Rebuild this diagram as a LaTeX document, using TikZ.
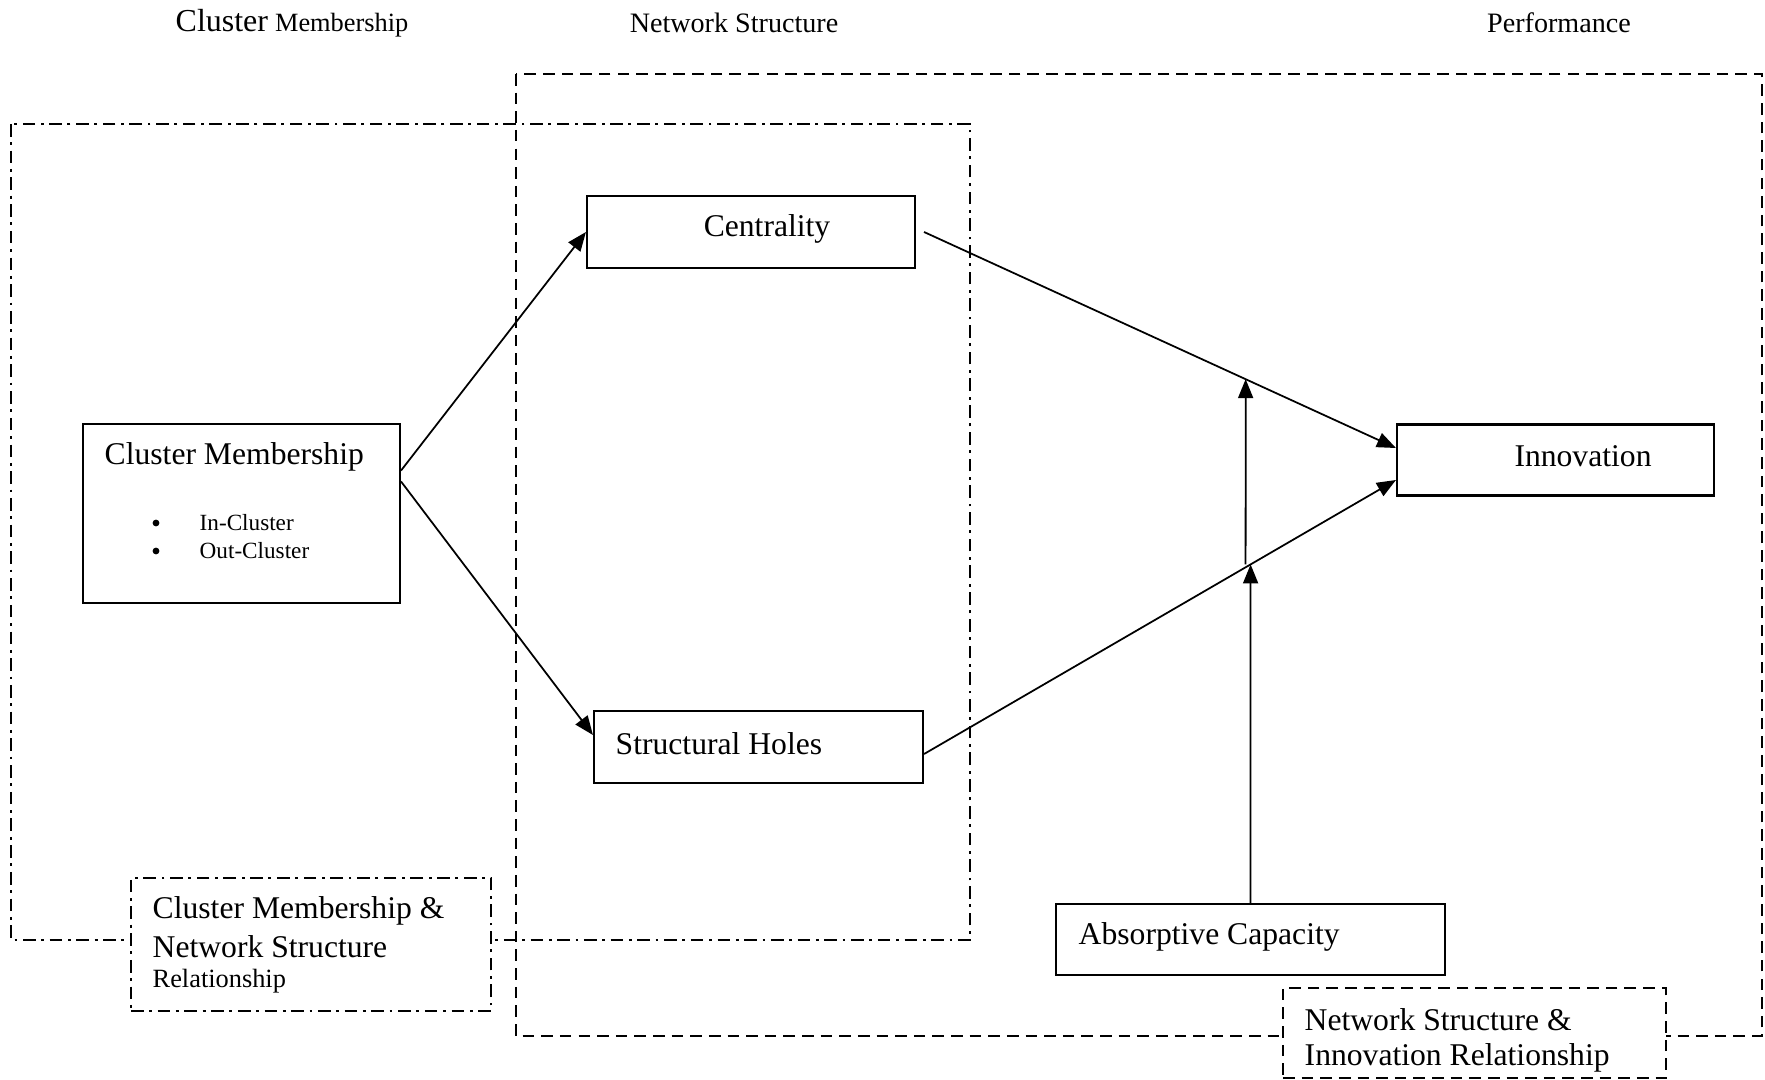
\documentclass[tikz,border=0pt]{standalone}
\usepackage{fontspec}
\setmainfont{Liberation Serif}
\usetikzlibrary{arrows.meta}

\begin{document}
\begin{tikzpicture}[
    box/.style={draw, line width=0.6pt, inner sep=0pt},
    tagbox/.style={draw, fill=white, line width=0.5pt, inner sep=0pt},
    link/.style={line width=0.5pt, -{Triangle[length=1.9mm,width=1.5mm]}},
    dashframe/.style={line width=0.5pt, dash pattern=on 3.3pt off 2pt},
    dotframe/.style={line width=0.5pt, dash pattern=on 3.6pt off 1.6pt on 0.8pt off 1.6pt},
    bullet/.style={circle, fill, inner sep=0pt, minimum size=0.68mm},
    big/.style={inner sep=0pt, font=\fontsize{9}{11}\selectfont},
    head/.style={inner sep=0pt, font=\fontsize{8}{10}\selectfont},
    small/.style={inner sep=0pt, font=\fontsize{6.6}{8}\selectfont},
]
    \useasboundingbox (0,0) rectangle (17.65,10.79);

    \node[head] (t1) at (2.92,10.56) {{\fontsize{9.1}{11}\selectfont Cluster} {\fontsize{7.5}{9}\selectfont Membership}};
    \node[head] (t2) at (7.34,10.56) {Network Structure};
    \node[head] (t3) at (15.59,10.56) {Performance};

    \draw[dashframe] (5.16,10.05) rectangle (17.62,0.43);
    \draw[dotframe] (0.11,9.55) rectangle (9.70,1.39);

    \node[box, minimum width=3.17cm, minimum height=1.79cm] (cm) at (2.415,5.655) {};
    \node[box, minimum width=3.28cm, minimum height=0.72cm] (cen) at (7.51,8.47) {};
    \node[box, minimum width=3.29cm, minimum height=0.72cm] (sh) at (7.585,3.32) {};
    \node[box, minimum width=3.17cm, minimum height=0.71cm] (inn) at (15.555,6.19) {};
    \node[box, minimum width=3.89cm, minimum height=0.71cm] (abs) at (12.505,1.395) {};

    \node[tagbox, dotframe, minimum width=3.60cm, minimum height=1.33cm] (cmns) at (3.11,1.345) {};
    \node[tagbox, dashframe, minimum width=3.83cm, minimum height=0.90cm] (nsir) at (14.745,0.46) {};

    \node[big, anchor=west] (cm-t) at (1.04,6.22) {Cluster Membership};
    \foreach \y/\t [count=\i] in {5.56/In-Cluster, 5.28/Out-Cluster} {
        \node[bullet] (dot\i) at (1.56,\y) {};
        \node[small, anchor=west] (item\i) at (1.99,\y) {\t};
    }
    \node[big] (cen-t) at (7.67,8.50) {Centrality};
    \node[big, anchor=west] (sh-t) at (6.15,3.35) {Structural Holes};
    \node[big] (inn-t) at (15.83,6.23) {Innovation};
    \node[big, anchor=west] (abs-t) at (10.78,1.42) {Absorptive Capacity};

    \node[big, anchor=west] (cmns-a) at (1.52,1.68) {Cluster Membership \&};
    \node[big, anchor=west] (cmns-b) at (1.52,1.32) {Network Structure};
    \node[small, font=\fontsize{7.5}{9}\selectfont, anchor=west] (cmns-c) at (1.52,0.98) {Relationship};
    \node[big, anchor=west] (nsir-a) at (13.04,0.59) {Network Structure \&};
    \node[big, anchor=west] (nsir-b) at (13.04,0.21) {Innovation Relationship};

    \coordinate (c1) at ([xshift=0.8mm]cen.east);
    \coordinate (i1) at ([yshift=1.2mm]inn.west);
    \coordinate (s1) at ([yshift=-0.7mm]sh.east);
    \coordinate (i2) at ([yshift=-2mm]inn.west);
    \coordinate (up) at (abs.north |- cen.north);
    \coordinate (lo) at (intersection of s1--i2 and abs.north--up);
    \coordinate (lo2) at ([xshift=-0.5mm]lo);
    \coordinate (lo3) at ([yshift=3cm]lo2);
    \coordinate (hi) at (intersection of c1--i1 and lo2--lo3);

    \draw[link] ([yshift=4.3mm]cm.east) -- (cen.west);
    \draw[link] ([yshift=3.2mm]cm.east) -- ([yshift=1.2mm]sh.west);
    \draw[link] (c1) -- (i1);
    \draw[link] (s1) -- (i2);
    \draw[link] (abs.north) -- (lo);
    \draw[link] (lo2) -- (hi);
\end{tikzpicture}
\end{document}
